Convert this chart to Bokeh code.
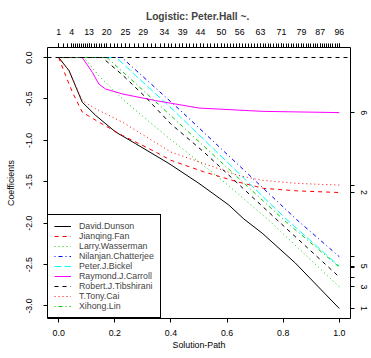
import numpy as np
from bokeh.plotting import figure
from bokeh.models import Range1d, LinearAxis, FixedTicker, Span, Legend, LegendItem, NumeralTickFormatter
from bokeh.embed import file_html
from bokeh.resources import INLINE

# ---- data ----
names = ["David.Dunson", "Jianqing.Fan", "Larry.Wasserman", "Nilanjan.Chatterjee",
         "Peter.J.Bickel", "Raymond.J.Carroll", "Robert.J.Tibshirani", "T.Tony.Cai", "Xihong.Lin"]

dunson_x = [0, 0.037, 0.084, 0.132, 0.203, 0.274, 0.393, 0.5, 0.606, 0.66, 0.725, 0.843, 1.0]
dunson_y = [0, -0.16, -0.54, -0.70, -0.90, -1.04, -1.28, -1.52, -1.78, -1.95, -2.12, -2.48, -3.03]

fan_x = [0, 0.025, 0.049, 0.084, 0.143, 0.227, 0.345, 0.399, 0.517, 0.636, 0.731, 0.85, 1.0]
fan_y = [0, -0.22, -0.42, -0.66, -0.78, -0.94, -1.14, -1.24, -1.38, -1.50, -1.58, -1.61, -1.63]

wasserman_x = [0, 0.09, 0.143, 0.227, 0.345, 0.399, 0.582, 0.754, 1.0]
wasserman_y = [0, 0, -0.22, -0.50, -0.84, -0.99, -1.48, -1.98, -2.77]

chatterjee_x = [0, 0.225, 0.434, 0.849, 1.0]
chatterjee_y = [0, 0, -0.64, -1.96, -2.405]

bickel_x = [0, 0.205, 0.41, 0.814, 1.0]
bickel_y = [0, 0, -0.64, -1.96, -2.52]

carroll_x = [0, 0.084, 0.12, 0.143, 0.167, 0.227, 0.345, 0.5, 0.725, 1.0]
carroll_y = [0, 0, -0.18, -0.32, -0.38, -0.44, -0.52, -0.61, -0.65, -0.665]

tibshirani_x = [0, 0.155, 0.227, 0.31, 0.399, 0.517, 0.778, 1.0]
tibshirani_y = [0, 0, -0.21, -0.48, -0.80, -1.14, -1.96, -2.65]

cai_x = [0, 0.037, 0.084, 0.132, 0.227, 0.399, 0.517, 0.636, 0.719, 0.85, 1.0]
cai_y = [0, -0.16, -0.52, -0.62, -0.78, -1.14, -1.28, -1.42, -1.48, -1.52, -1.54]

xihong_x = [0, 0.172, 0.399, 0.802, 1.0]
xihong_y = [0, 0, -0.70, -1.96, -2.53]

right_labels = ["1", "2", "3", "", "5", "6", "", "", ""]

top_steps = [1, 4, 13, 20, 25, 29, 34, 39, 44, 50, 56, 63, 71, 79, 87, 96]
top_pos = [0, 0.046, 0.108, 0.171, 0.238, 0.301, 0.377, 0.442, 0.505, 0.580,
           0.645, 0.719, 0.794, 0.865, 0.932, 1.0]

x_ticks = [0.0, 0.2, 0.4, 0.6, 0.8, 1.0]
y_ticks = [-3.0, -2.5, -2.0, -1.5, -1.0, -0.5, 0.0]

x_title = "Solution-Path"
x_title_at = 0.5

xs = [dunson_x, fan_x, wasserman_x, chatterjee_x, bickel_x, carroll_x, tibshirani_x, cai_x, xihong_x]
ys = [dunson_y, fan_y, wasserman_y, chatterjee_y, bickel_y, carroll_y, tibshirani_y, cai_y, xihong_y]

colors = ["black", "red", "#00CD00", "blue", "cyan", "magenta", "black", "red", "#00CD00"]
dashes = ["solid", "4 4", "1 3", "1 3 4 3", "7 3", "solid", "4 4", "1 3", "1 3 4 3"]

FONT = "Liberation Sans"
FS = "8.8px"

p = figure(width=371, height=358, x_range=Range1d(-0.04, 1.04), y_range=Range1d(-3.151, 0.121),
           output_backend="svg", toolbar_location=None,
           min_border_left=47, min_border_right=21, min_border_top=47, min_border_bottom=40,
           title="Logistic:  Peter.Hall ~.")
p.xgrid.visible = False
p.ygrid.visible = False
p.outline_line_color = "black"
p.outline_line_alpha = 1
p.outline_line_width = 1
p.background_fill_color = "white"
p.border_fill_color = "white"

p.title.text_font = FONT
p.title.text_font_size = "10.2px"
p.title.text_font_style = "bold"
p.title.align = "center"
p.title.standoff = 8


def style_axis(ax, standoff):
    ax.major_label_text_font = FONT
    ax.major_label_text_font_size = FS
    ax.major_label_text_color = "black"
    ax.axis_label_text_font = FONT
    ax.axis_label_text_font_size = FS
    ax.axis_label_text_font_style = "normal"
    ax.axis_label_text_color = "black"
    ax.major_tick_out = 4
    ax.major_tick_in = 0
    ax.minor_tick_out = 0
    ax.minor_tick_in = 0
    ax.major_tick_line_color = "black"
    ax.axis_line_color = None
    ax.major_label_standoff = standoff


bx = p.below[0]
style_axis(bx, 7)
bx.ticker = FixedTicker(ticks=x_ticks)
bx.formatter = NumeralTickFormatter(format="0.0")

# x-axis title, drawn as the only label of an outer, tick-less bottom axis
bx2 = LinearAxis()
style_axis(bx2, 1)
bx2.major_tick_out = 0
bx2.major_tick_line_color = None
bx2.ticker = FixedTicker(ticks=[x_title_at])
bx2.major_label_overrides = {x_title_at: x_title}
p.add_layout(bx2, "below")

ly = p.left[0]
style_axis(ly, 11)
ly.ticker = FixedTicker(ticks=y_ticks)
ly.formatter = NumeralTickFormatter(format="0.0")
ly.major_label_orientation = "vertical"
ly.axis_label = "Coefficients"
ly.axis_label_standoff = 8

# top axis: solution steps
minor_steps = list(np.interp(np.arange(1, top_steps[-1] + 1), top_steps, top_pos))
tax = LinearAxis()
style_axis(tax, 9)
tax.ticker = FixedTicker(ticks=top_pos, minor_ticks=minor_steps)
tax.minor_tick_out = 4
tax.minor_tick_line_color = "black"
tax.major_label_overrides = {float(pos): str(s) for pos, s in zip(top_pos, top_steps)}
p.add_layout(tax, "above")

# right axis: final coefficient values
finals = [yy[-1] for yy in ys]
rax = LinearAxis()
style_axis(rax, 6)
rax.ticker = FixedTicker(ticks=finals)
rax.major_label_orientation = "vertical"
rax.major_label_overrides = {float(v): lab for v, lab in zip(finals, right_labels)}
p.add_layout(rax, "right")

p.add_layout(Span(location=0, dimension="width", line_color="black", line_dash="4 4", line_width=1))

items = []
for n, x, y, c, d in zip(names, xs, ys, colors, dashes):
    r = p.line(x, y, line_color=c, line_dash=d, line_width=1)
    items.append(LegendItem(label=n, renderers=[r]))

legend = Legend(items=items, location="bottom_left", margin=0, padding=6, spacing=0,
                label_height=10, glyph_height=10, glyph_width=17, label_standoff=8,
                label_text_font=FONT, label_text_font_size=FS,
                border_line_color="black", border_line_width=1, border_line_alpha=1,
                background_fill_color="white", background_fill_alpha=1)
p.add_layout(legend)

open("out.html", "w").write(file_html(p, INLINE))
